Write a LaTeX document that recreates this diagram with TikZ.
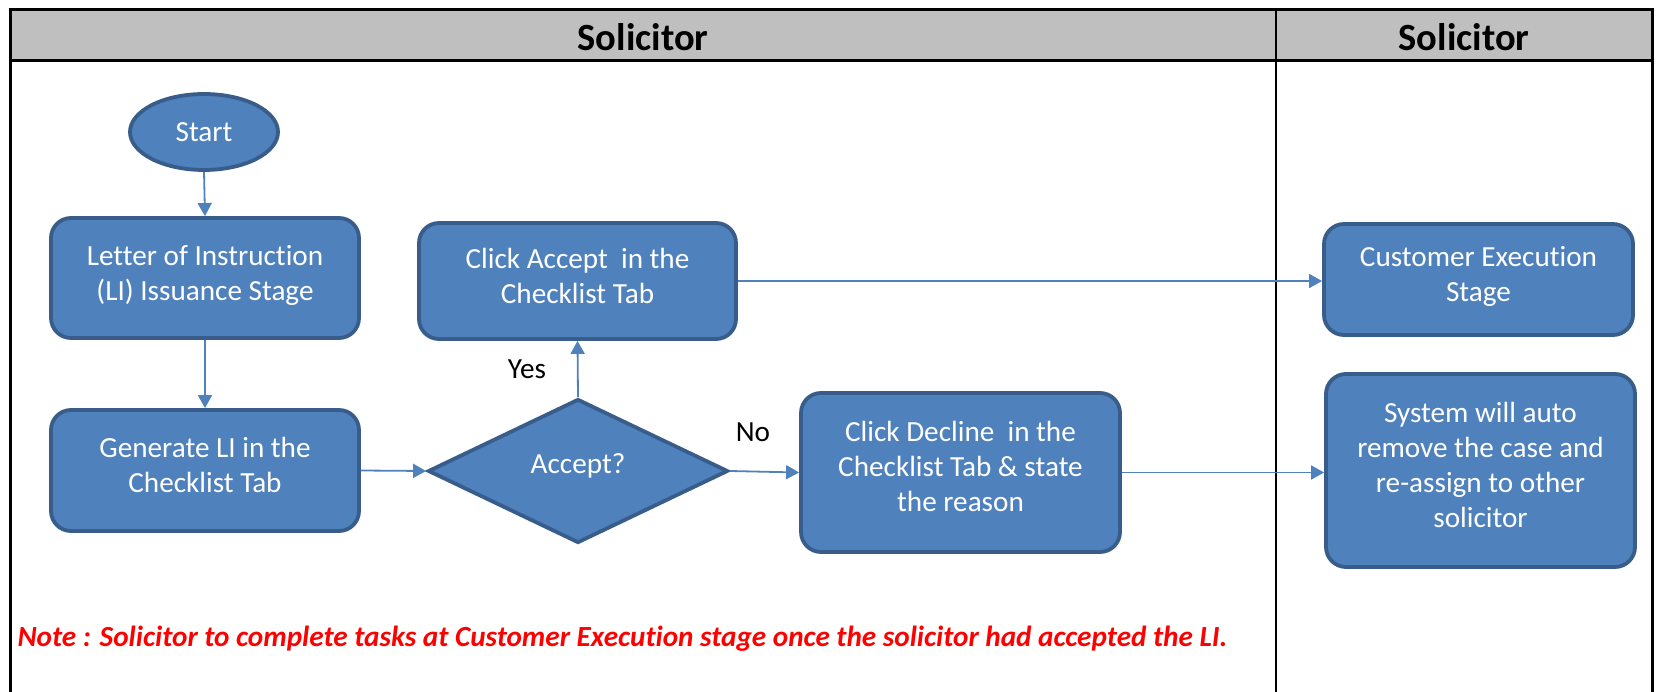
\documentclass[tikz,border=0pt]{standalone}
\usepackage{fontspec}
\setmainfont{Carlito}[Ligatures={NoCommon}]
\usetikzlibrary{shapes.geometric,arrows.meta}
\definecolor{boxfill}{HTML}{4F81BD}
\definecolor{boxline}{HTML}{385D8A}
\definecolor{hdrfill}{HTML}{BFBFBF}
\definecolor{arrowc}{HTML}{4F81BD}
\tikzset{
  procbox/.style={draw=boxline, line width=3.8pt, fill=boxfill, rounded corners=20pt,
    inner sep=0pt},
  boxtext/.style={text=white, align=center, inner sep=0pt,
    font=\fontsize{29.2}{35}\selectfont},
  startell/.style={draw=boxline, line width=3.8pt, fill=boxfill, ellipse, inner sep=0pt,
    text=white, font=\fontsize{29.2}{35}\selectfont},
  decision/.style={draw=boxline, line width=3.8pt, fill=boxfill, diamond, inner sep=0pt},
  flow/.style={draw=arrowc, line width=1.8pt, -{Triangle[length=13pt,width=14pt]}},
  lbl/.style={text=black, font=\fontsize{29.2}{35}\selectfont},
  hdr/.style={font=\fontsize{38.5}{44}\selectfont\bfseries, text=black},
  frameline/.style={draw=black, line width=3pt},
}
\begin{document}
\begin{tikzpicture}[x=1pt,y=-1pt]
\useasboundingbox (0,0) rectangle (1657,692);
% header band
\fill[hdrfill] (10,10) rectangle (1652,61);
\draw[frameline] (10,700) -- (10,10) -- (1652,10) -- (1652,700);
\draw[frameline] (10,61) -- (1652,61);
\draw[draw=black, line width=2pt] (1276,10) -- (1276,700);
\node[hdr] (h1) at (643,37) {Solicitor};
\node[hdr] (h2) at (1464,37) {Solicitor};

% nodes
\node[startell, minimum width=148pt, minimum height=76pt] (start) at (204,132) {Start};
\node[procbox, minimum width=308pt, minimum height=120pt] (li) at (205,278) {};
\node[boxtext] (litxt) at ([yshift=3pt]li.center) {Letter of Instruction\\(LI) Issuance Stage};
\node[procbox, minimum width=308pt, minimum height=121pt] (gen) at (205,470.5) {};
\node[boxtext] (gentxt) at ([yshift=6pt]gen.center) {Generate LI in the\\Checklist Tab};
\node[decision, minimum width=300pt, minimum height=144pt] (dec) at (578,471) {};
\node[boxtext] (dectxt) at ([yshift=5pt]dec.center) {Accept?};
\node[procbox, minimum width=317pt, minimum height=116pt] (acc) at (577.5,281) {};
\node[boxtext] (acctxt) at ([yshift=5pt]acc.center) {Click Accept\ \ in the\\Checklist Tab};
\node[procbox, minimum width=319pt, minimum height=159pt] (decl) at (960.5,472.5) {};
\node[boxtext] (decltxt) at ([yshift=6pt]decl.center) {Click Decline\ \ in the\\Checklist Tab \& state\\the reason};
\node[procbox, minimum width=309pt, minimum height=111pt] (cust) at (1478.5,279.5) {};
\node[boxtext] (custtxt) at ([yshift=3pt]cust.center) {Customer Execution\\Stage};
\node[procbox, minimum width=309pt, minimum height=193pt] (sys) at (1480.5,470.5) {};
\node[boxtext] (systxt) at ([yshift=6pt]sys.center) {System will auto\\remove the case and\\re-assign to other\\solicitor};

% connectors
\draw[flow] (start.south) -- (li.north);
\draw[flow] (li.south) -- (gen.north);
\draw[flow] (gen.east) -- (dec.west);
\draw[flow] (dec.north) -- (acc.south);
\draw[flow] (dec.east) -- (decl.west);
\draw[flow] (acc.east) -- (acc.east -| cust.west);
\draw[flow] (decl.east) -- (decl.east -| sys.west);

% labels
\node[lbl] (yes) at (527,369) {Yes};
\node[lbl] (no) at (753,432) {No};

% note
\node[anchor=west, text=red, font=\fontsize{29.2}{35}\selectfont\bfseries\itshape] (note) at (14,639)
  {Note : Solicitor to complete tasks at Customer Execution stage once the solicitor had accepted the LI.};
\end{tikzpicture}
\end{document}
